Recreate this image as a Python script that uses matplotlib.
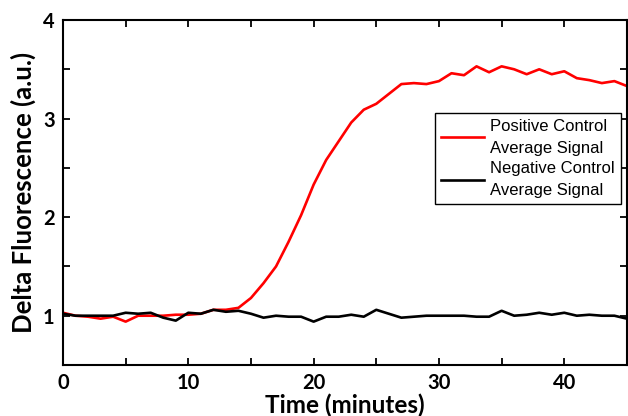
import matplotlib
matplotlib.use("Agg")
import matplotlib.pyplot as plt
import numpy as np

# time in minutes
time_min = list(range(0, 46))

# positive control average signal
positive = [1.03, 1.00, 0.99, 0.97, 0.99, 0.94, 1.00, 1.00, 1.00, 1.01,
            1.01, 1.02, 1.06, 1.06, 1.08, 1.18, 1.33, 1.50, 1.75, 2.02,
            2.33, 2.58, 2.77, 2.96, 3.09, 3.15, 3.25, 3.35, 3.36, 3.35,
            3.38, 3.46, 3.44, 3.53, 3.47, 3.53, 3.50, 3.45, 3.50, 3.45,
            3.48, 3.41, 3.39, 3.36, 3.38, 3.33]

# negative control average signal
negative = [1.02, 1.00, 1.00, 1.00, 1.00, 1.03, 1.02, 1.03, 0.98, 0.95,
            1.03, 1.02, 1.06, 1.04, 1.05, 1.02, 0.98, 1.00, 0.99, 0.99,
            0.94, 0.99, 0.99, 1.01, 0.99, 1.06, 1.02, 0.98, 0.99, 1.00,
            1.00, 1.00, 1.00, 0.99, 0.99, 1.05, 1.00, 1.01, 1.03, 1.01,
            1.03, 1.00, 1.01, 1.00, 1.00, 0.97]

labels = ["Positive Control\nAverage Signal", "Negative Control\nAverage Signal"]

x_major = [0, 10, 20, 30, 40]
y_major = [1, 2, 3, 4]

fig = plt.figure(figsize=(6.28, 4.16), dpi=100)
ax = fig.add_axes([0.1003, 0.1226, 0.8980, 0.8293])

ax.plot(time_min, positive, color="#ff0000", lw=1.9, label=labels[0])
ax.plot(time_min, negative, color="black", lw=1.9, label=labels[1])

ax.set_xlim(0, 45)
ax.set_ylim(0.5, 4)
ax.set_xticks(x_major)
ax.set_xticks([5, 15, 25, 35, 45], minor=True)
ax.set_yticks(y_major)
ax.set_yticks([0.5, 1.5, 2.5, 3.5], minor=True)

ax.tick_params(which="both", direction="in", top=True, right=True,
               width=1.3, length=5, pad=6)
for lab in ax.get_xticklabels() + ax.get_yticklabels():
    lab.set_fontfamily("Lato")
    lab.set_fontweight("bold")
    lab.set_fontsize(14.5)

for sp in ax.spines.values():
    sp.set_linewidth(1.5)

ax.set_xlabel("Time (minutes)", fontfamily="Lato", fontweight="bold",
              fontsize=17.5, labelpad=0)
ax.set_ylabel("Delta Fluorescence (a.u.)", fontfamily="Lato",
              fontweight="bold", fontsize=18.5, labelpad=5)

leg = ax.legend(loc="upper left", bbox_to_anchor=(0.66, 0.731),
                prop={"family": "Liberation Sans", "size": 12},
                frameon=True, fancybox=False, edgecolor="black",
                framealpha=1, handlelength=2.55, borderpad=0.35,
                labelspacing=0.3, handletextpad=0.4, borderaxespad=0)
leg.get_frame().set_linewidth(1.0)
for t in leg.get_texts():
    t.set_linespacing(1.6)

fig.savefig("out.png", dpi=100)
